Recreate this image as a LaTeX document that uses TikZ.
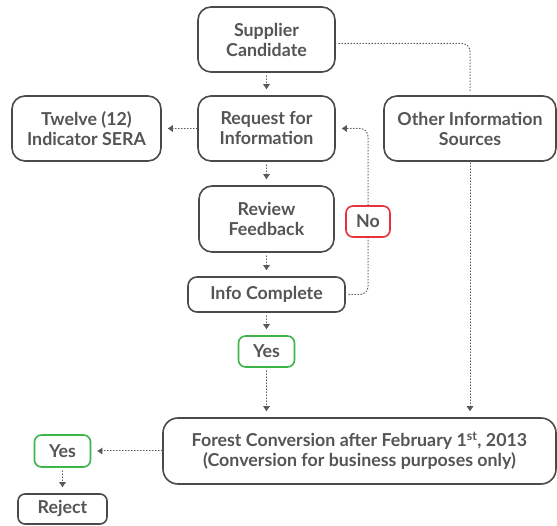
\documentclass[tikz,border=0pt]{standalone}
\usepackage{fontspec}
\setmainfont{Lato}
\usetikzlibrary{arrows.meta}
\definecolor{boxgray}{HTML}{4A4A4A}
\definecolor{txtgray}{HTML}{555555}
\definecolor{linkgray}{HTML}{5A5A5A}
\definecolor{okgreen}{HTML}{3DB54A}
\definecolor{nored}{HTML}{E8323C}
\begin{document}
\begin{tikzpicture}[x=1pt,y=1pt,line join=round,line cap=round,>={Triangle[width=6.5pt,length=5pt]},font=\bfseries\fontsize{17.8}{20}\selectfont]
	\tikzset{box/.style={draw=boxgray,line width=1.6pt,rounded corners=13pt,fill=white,text=txtgray,align=center,inner sep=0pt},
		smallbox/.style={box,rounded corners=7pt},
		yesbox/.style={smallbox,draw=okgreen},
		nobox/.style={smallbox,draw=nored},
		link/.style={draw=linkgray,line width=1pt,dash pattern=on 0.9pt off 2.1pt,shorten <=3pt,shorten >=6pt}}
	\useasboundingbox (0,0) rectangle (557,525);
	% boxes
	\node[box,minimum width=137pt,minimum height=65pt] (supp) at (266.5,485.5) {Supplier\\Candidate};
	\node[box,minimum width=137pt,minimum height=65pt] (req) at (266.5,396.5) {Request for\\Information};
	\node[box,minimum width=149pt,minimum height=65pt] (twelve) at (86.5,396.5) {Twelve (12)\\Indicator SERA};
	\node[box,minimum width=172pt,minimum height=65pt] (other) at (470,396.5) {Other Information\\Sources};
	\node[box,minimum width=135pt,minimum height=66pt] (review) at (266.5,306) {Review\\Feedback};
	\node[nobox,minimum width=44pt,minimum height=31pt] (no) at (368,303.5) {No};
	\node[smallbox,rounded corners=9pt,minimum width=157pt,minimum height=35pt] (info) at (266.5,230.5) {Info Complete};
	\node[yesbox,minimum width=56pt,minimum height=31pt] (yes) at (266.5,173.5) {Yes};
	\node[box,rounded corners=15pt,minimum width=393pt,minimum height=66pt] (forest) at (359.5,74) {Forest Conversion after February 1\textsuperscript{st}, 2013\\(Conversion for business purposes only)};
	\node[yesbox,minimum width=56pt,minimum height=32pt] (yes2) at (62.5,74) {Yes};
	\node[smallbox,minimum width=89pt,minimum height=30pt] (reject) at (62.5,16) {Reject};
	% connectors
	\draw[link,->] (supp) -- (req);
	\draw[link,->,shorten <=0pt] (req) -- (twelve);
	\draw[link,->] (req) -- (review);
	\draw[link,->] (review) -- (info);
	\draw[link,->] (info) -- (yes);
	\draw[link,->] (yes) -- (yes |- forest.north);
	\draw[link,rounded corners=8pt,shorten >=3pt] ([yshift=-4pt]supp.east) -| (other.north);
	\draw[link,->,shorten <=1pt] (other.south) -- (other.south |- forest.north);
	\draw[link,rounded corners=8pt,shorten >=0pt] (info.east) -| (no.south);
	\draw[link,->,rounded corners=8pt,shorten <=0pt] (no.north) |- (req.east);
	\draw[link,->,shorten <=0pt] (forest) -- (yes2);
	\draw[link,->] (yes2) -- (reject);
\end{tikzpicture}
\end{document}
